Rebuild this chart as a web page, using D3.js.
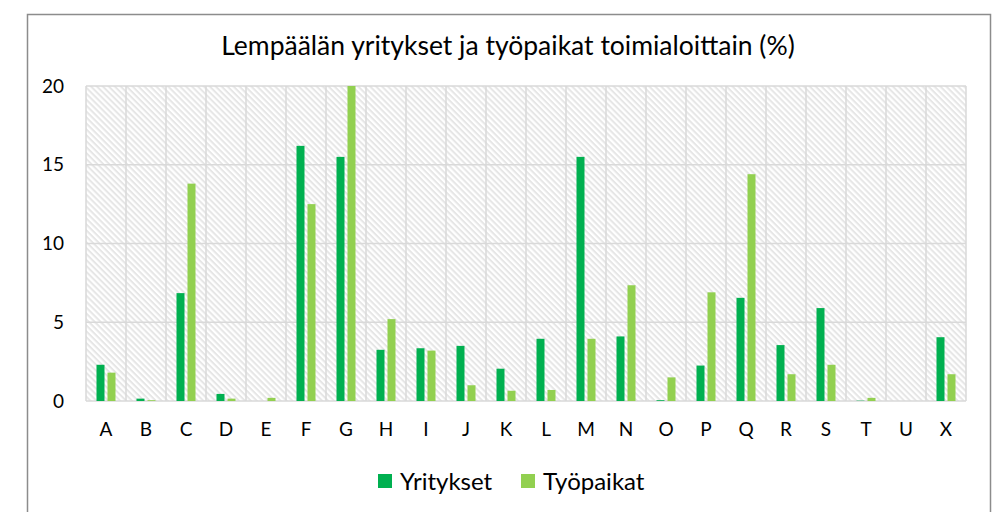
<!DOCTYPE html>
<html>
<head>
<meta charset="utf-8">
<script src="https://cdn.jsdelivr.net/npm/d3@7"></script>
<style>
    body { margin: 0; background: white; }
    text { font-family: Lato, "Open Sans", sans-serif; fill: #000; }
</style>
</head>
<body>
<svg width="993" height="512"></svg>
<script>
    // toimialat (categories)
    let categories = ["A","B","C","D","E","F","G","H","I","J","K","L","M","N","O","P","Q","R","S","T","U","X"];
    let yritykset  = [2.3, 0.15, 6.85, 0.45, 0, 16.2, 15.5, 3.25, 3.35, 3.5, 2.05, 3.95, 15.5, 4.1, 0.05, 2.25, 6.55, 3.55, 5.9, 0.02, 0, 4.05];
    let tyopaikat  = [1.8, 0.05, 13.8, 0.15, 0.2, 12.5, 20.0, 5.2, 3.2, 1.0, 0.65, 0.7, 3.95, 7.35, 1.5, 6.9, 14.4, 1.7, 2.3, 0.2, 0, 1.7];
    let yTicks = [0, 5, 10, 15, 20];
    let seriesNames = ["Yritykset", "Työpaikat"];
    let colors = ["#00b050", "#92d050"];

    let margin = { top: 86, right: 26, bottom: 111, left: 86 };
    let width = 993;
    let height = 512;

    let svg = d3.select("svg");

    // outer chart frame
    svg.append("rect")
        .attr("x", 27.5).attr("y", 14.5)
        .attr("width", 963).attr("height", 520)
        .style("fill", "white")
        .style("stroke", "#8c8c8c")
        .style("stroke-width", 1.5)

    let defs = svg.append("defs");
    let pat = defs.append("pattern")
        .attr("id", "hatch")
        .attr("patternUnits", "userSpaceOnUse")
        .attr("width", 4.2).attr("height", 4.2)
        .attr("patternTransform", "rotate(45)")
    pat.append("rect").attr("width", 4.2).attr("height", 4.2).style("fill", "white")
    pat.append("line")
        .attr("x1", 0).attr("x2", 4.2).attr("y1", 1).attr("y2", 1)
        .style("stroke", "#e6e6e6").style("stroke-width", 2)

    let x = d3.scaleBand()
        .domain(categories)
        .range([margin.left, width - margin.right - 1])

    let y = d3.scaleLinear()
        .domain([0, 20])
        .range([height - margin.bottom, margin.top])

    // plot background
    svg.append("rect")
        .attr("x", x.range()[0]).attr("y", y(20))
        .attr("width", x.range()[1] - x.range()[0])
        .attr("height", y(0) - y(20))
        .style("fill", "url(#hatch)")

    // gridlines
    svg.append("g")
        .selectAll("line")
        .data(yTicks)
        .join("line")
        .attr("x1", x.range()[0]).attr("x2", x.range()[1])
        .attr("y1", d => y(d)).attr("y2", d => y(d))
        .style("stroke", "#d9d9d9").style("stroke-width", 1.5)

    let bounds = categories.map(c => x(c)).concat([x.range()[1]]);
    svg.append("g")
        .selectAll("line")
        .data(bounds)
        .join("line")
        .attr("x1", d => d).attr("x2", d => d)
        .attr("y1", y(20)).attr("y2", y(0))
        .style("stroke", "#d9d9d9").style("stroke-width", 1.5)

    // bars
    let barW = 8, gap = 3;
    let series = [yritykset, tyopaikat];
    series.forEach(function (vals, s) {
        svg.append("g")
            .selectAll("rect")
            .data(categories)
            .join("rect")
            .attr("x", (c, i) => x(c) + x.bandwidth() / 2 - (barW + gap / 2) + s * (barW + gap))
            .attr("y", (c, i) => y(vals[i]))
            .attr("width", barW)
            .attr("height", (c, i) => y(0) - y(vals[i]))
            .style("fill", colors[s])
    })

    // axes
    let yAxis = svg.append("g")
        .attr("transform", `translate(${x.range()[0]}, 0)`)
        .call(d3.axisLeft(y).tickValues(yTicks).tickSize(0).tickPadding(22))
    yAxis.select(".domain").remove()
    yAxis.selectAll("text").style("font-size", "19px").style("font-family", "Lato")

    let xAxis = svg.append("g")
        .attr("transform", `translate(0, ${y(0)})`)
        .call(d3.axisBottom(x).tickSize(0).tickPadding(22))
    xAxis.select(".domain").remove()
    xAxis.selectAll("text").style("font-size", "19px").style("font-family", "Lato")

    // title
    svg.append("text")
        .attr("x", 508).attr("y", 55)
        .attr("text-anchor", "middle")
        .style("font-size", "26.5px")
        .text("Lempäälän yritykset ja työpaikat toimialoittain (%)")

    // legend
    let legendX = [378, 521];
    let legend = svg.append("g")
        .selectAll("g")
        .data(seriesNames)
        .join("g")
        .attr("transform", (d, i) => `translate(${legendX[i]}, 474)`)
    legend.append("rect")
        .attr("width", 14).attr("height", 14)
        .style("fill", (d, i) => colors[i])
    legend.append("text")
        .attr("x", 22).attr("y", 16)
        .style("font-size", "24px")
        .text(d => d)
</script>
</body>
</html>
